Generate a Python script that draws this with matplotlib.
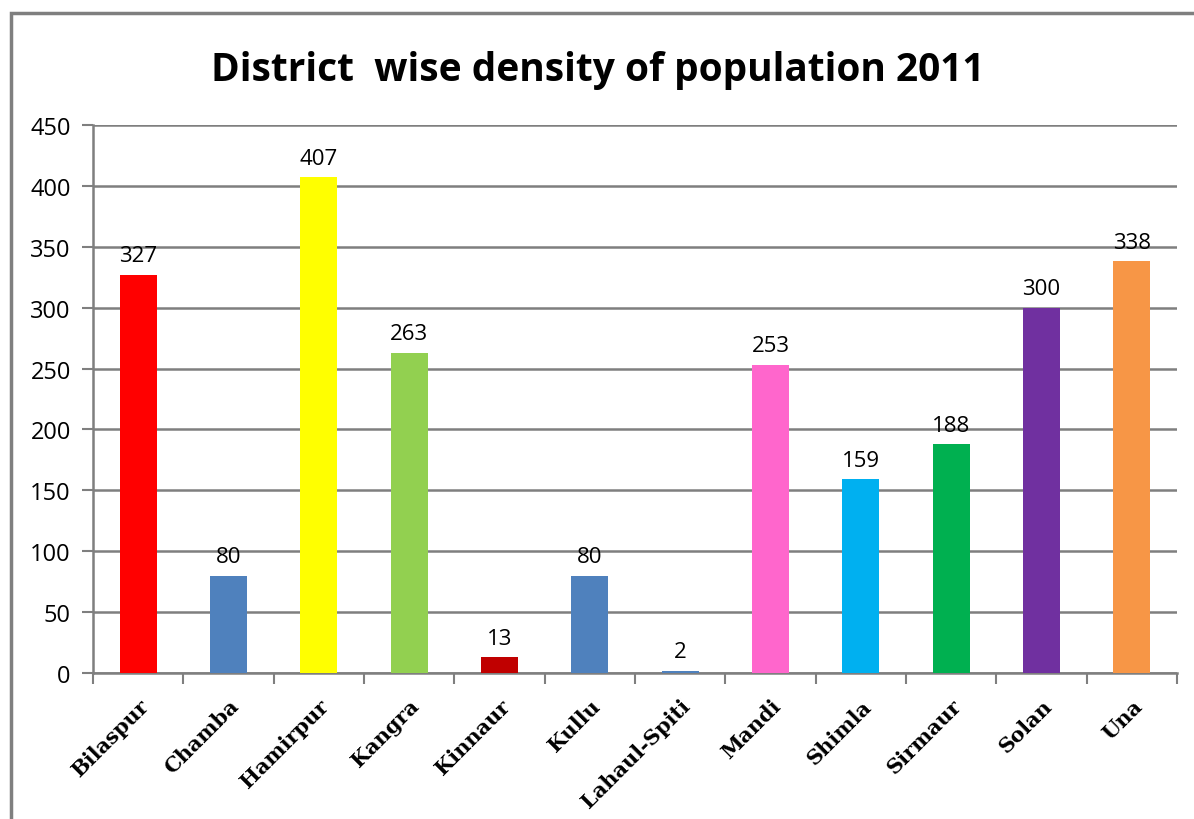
import matplotlib.pyplot as plt
from matplotlib.patches import Rectangle

# data
districts = ["Bilaspur", "Chamba", "Hamirpur", "Kangra", "Kinnaur", "Kullu",
             "Lahaul-Spiti", "Mandi", "Shimla", "Sirmaur", "Solan", "Una"]
density = [327, 80, 407, 263, 13, 80, 2, 253, 159, 188, 300, 338]
bar_colors = ["#FF0000", "#4F81BD", "#FFFF00", "#92D050", "#C00000", "#4F81BD",
              "#4F81BD", "#FF66CC", "#00B0F0", "#00B050", "#7030A0", "#F79646"]

W, H = 1194, 820
fig = plt.figure(figsize=(W / 100, H / 100), dpi=100)

# outer chart border
fig.patches.append(Rectangle((11 / W, -0.1), 1.2, 1 - 14 / H + 0.1,
                             transform=fig.transFigure, fill=False,
                             edgecolor="#7f7f7f", linewidth=2.5))

ax = fig.add_axes([93 / W, 1 - 674 / H, (1177 - 93) / W, (674 - 126) / H])

x = list(range(len(districts)))
ax.bar(x, density, width=0.41, color=bar_colors, zorder=3)

for xi, v in zip(x, density):
    ax.text(xi, v + 7, str(v), ha="center", va="bottom", fontsize=16,
            family="Open Sans", zorder=4)

ax.set_xlim(-0.5, len(districts) - 0.5)
ax.set_ylim(0, 450)
ax.set_yticks(range(0, 451, 50))
ax.tick_params(axis="y", labelsize=17, length=8, width=1.5, color="#7f7f7f", pad=8)
for lab in ax.get_yticklabels():
    lab.set_family("Open Sans")

# x ticks at category boundaries, labels at centres
ax.set_xticks([i - 0.5 for i in range(len(districts) + 1)])
ax.set_xticklabels([])
ax.set_xticks(x, minor=True)
ax.set_xticklabels(districts, minor=True, rotation=45, ha="right",
                   rotation_mode="anchor", fontsize=15, fontweight="bold",
                   family="DejaVu Serif")
ax.tick_params(axis="x", which="major", length=8, width=1.5, color="#7f7f7f")
ax.tick_params(axis="x", which="minor", length=0, pad=16)

ax.grid(axis="y", color="#7f7f7f", linewidth=1.8, zorder=0)
for s in ["top", "right"]:
    ax.spines[s].set_visible(False)
for s in ["left", "bottom"]:
    ax.spines[s].set_color("#7f7f7f")
    ax.spines[s].set_linewidth(1.8)

fig.text(598 / W, 1 - 70 / H, "District  wise density of population 2011",
         ha="center", va="center", fontsize=28, fontweight="bold", family="Open Sans")

fig.savefig("out.png", dpi=100)
